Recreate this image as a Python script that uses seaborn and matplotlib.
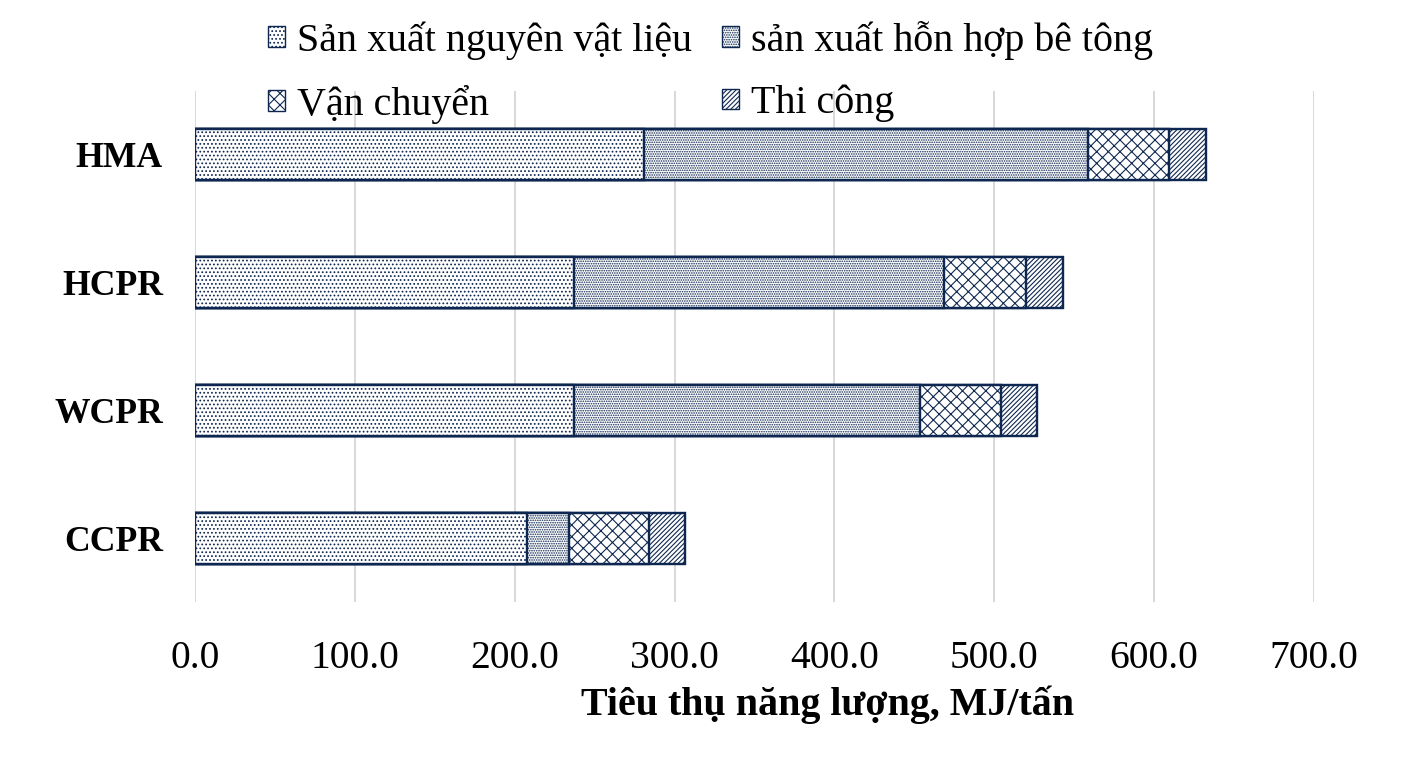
import numpy as np
import pandas as pd
import matplotlib
matplotlib.use("Agg")
import matplotlib.pyplot as plt
from matplotlib.patches import Patch
import seaborn as sns

# ---- data ----
categories = ["HMA", "HCPR", "WCPR", "CCPR"]
series_names = ["Sản xuất nguyên vật liệu", "sản xuất hỗn hợp bê tông", "Vận chuyển", "Thi công"]
materials = [280.8, 236.9, 236.8, 207.6]
mixing = [277.7, 231.4, 216.7, 26.1]
transport = [51.1, 51.7, 50.9, 50.2]
construction = [22.9, 22.7, 22.5, 22.4]
xticks = [0, 100, 200, 300, 400, 500, 600, 700]
xlabel = "Tiêu thụ năng lượng, MJ/tấn"

DPI = 70
def pt(px):
    return px * 72.0 / DPI

NAVY = "#0E2750"
GRID = "#D9D9D9"

sns.set_theme(style="white")
plt.rcParams["font.family"] = ["Liberation Serif", "DejaVu Serif"]
plt.rcParams["hatch.color"] = NAVY
plt.rcParams["hatch.linewidth"] = pt(1.1)

fig = plt.figure(figsize=(1410 / DPI, 759 / DPI), dpi=DPI)
ax = fig.add_axes([195 / 1410, 1 - 602 / 759, (1314 - 195) / 1410, (602 - 91) / 759])

series = [materials, mixing, transport, construction]
hatches = ["...", ".....", "xx", "/////"]
cum = np.cumsum(np.array(series), axis=0)

# draw from total down to first segment so each layer overlays the previous
for i in range(len(series) - 1, -1, -1):
    df = pd.DataFrame({"cat": categories, "val": cum[i]})
    sns.barplot(data=df, x="val", y="cat", orient="h", order=categories,
                color="white", saturation=1, width=0.4, errorbar=None,
                edgecolor=NAVY, linewidth=pt(2.4), hatch=hatches[i], ax=ax, zorder=3)

ax.set_xlim(0, 700)
ax.set_ylim(3.5, -0.5)
ax.set_xticks(xticks)
ax.set_xticklabels([f"{v:.1f}" for v in xticks])
ax.xaxis.grid(True, color=GRID, linewidth=pt(2.0), zorder=0)
ax.yaxis.grid(False)
ax.set_axisbelow(True)
for s in ax.spines.values():
    s.set_visible(False)

ax.tick_params(axis="x", length=0, pad=pt(38), labelsize=pt(39.5), labelcolor="black")
ax.tick_params(axis="y", length=0, pad=pt(32), labelsize=pt(35.6), labelcolor="black")
for lab in ax.get_yticklabels():
    lab.set_fontweight("bold")

ax.set_ylabel("")
ax.set_xlabel(xlabel, fontsize=pt(40), fontweight="bold", color="black")
ax.xaxis.set_label_coords((828 - 195) / 1119, -(705 - 602) / 511)
ax.xaxis.label.set_va("center")

handles = [Patch(facecolor="white", edgecolor=NAVY, hatch=h, linewidth=pt(1.4)) for h in hatches]
order = [0, 2, 1, 3]
leg = fig.legend([handles[k] for k in order], [series_names[k] for k in order],
                 loc="upper left", bbox_to_anchor=(268 / 1410, 1 - 21 / 759),
                 ncol=2, frameon=False, fontsize=pt(40), borderpad=0, borderaxespad=0,
                 handlelength=0.42, handleheight=0.42, handletextpad=0.3,
                 columnspacing=0.75, labelspacing=0.62)
for t in leg.get_texts():
    t.set_color("black")

fig.savefig("out.png", dpi=DPI, facecolor="white")
